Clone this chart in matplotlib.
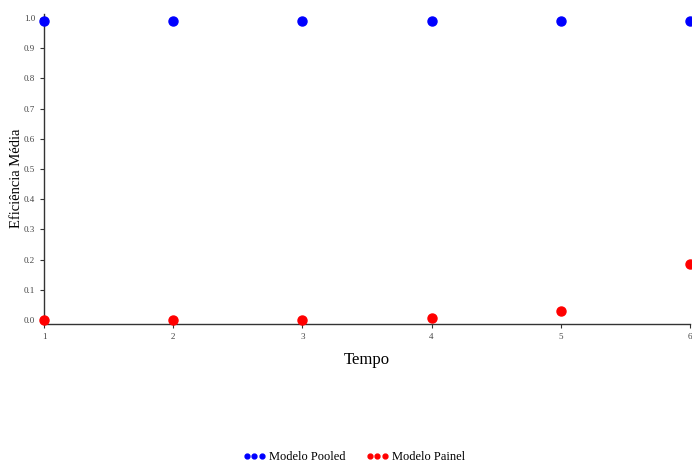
import matplotlib.pyplot as plt
from matplotlib.lines import Line2D

plt.rcParams["font.family"] = ["Liberation Serif", "DejaVu Serif"]

tempo = [1, 2, 3, 4, 5, 6]
pooled = [0.99, 0.99, 0.99, 0.99, 0.99, 0.99]
painel = [0.0, 0.0, 0.0, 0.006, 0.03, 0.186]
y_ticks = [0.0, 0.1, 0.2, 0.3, 0.4, 0.5, 0.6, 0.7, 0.8, 0.9, 1.0]

fig = plt.figure(figsize=(6.92, 4.65), dpi=100)
ax = fig.add_axes([44 / 692, 1 - 324 / 465, 646 / 692, 310 / 465])

ax.plot(tempo, pooled, "o", color="#0000ff", markersize=6.5, clip_on=False, zorder=3)
ax.plot(tempo, painel, "o", color="#ff0000", markersize=6.5, clip_on=False, zorder=3)

ax.set_xlim(1, 6)
ax.set_ylim(-0.013, 1.013)
ax.set_xticks(tempo)
ax.set_yticks(y_ticks)
ax.set_yticklabels([f"{v:.1f}" for v in y_ticks])
ax.tick_params(labelsize=6.5, length=3, width=0.8, colors="#333333", labelcolor="#444444")
for s in ["top", "right"]:
    ax.spines[s].set_visible(False)
for s in ["left", "bottom"]:
    ax.spines[s].set_color("#333333")
    ax.spines[s].set_linewidth(1.0)

ax.set_xlabel("Tempo", fontsize=12, labelpad=8)
ax.set_ylabel("Eficiência Média", fontsize=10.5)
ax.yaxis.set_label_coords(-0.033, 0.47)

handles = [
    Line2D([], [], marker="o", linestyle="none", color="#0000ff", markersize=3.5),
    Line2D([], [], marker="o", linestyle="none", color="#ff0000", markersize=3.5),
]
fig.legend(
    handles,
    ["Modelo Pooled", "Modelo Painel"],
    loc="lower center",
    bbox_to_anchor=(0.512, -0.02),
    ncol=2,
    frameon=False,
    numpoints=3,
    fontsize=9,
    handlelength=1.8,
    handletextpad=0.3,
    columnspacing=1.6,
)

fig.savefig("out.png", dpi=100)
